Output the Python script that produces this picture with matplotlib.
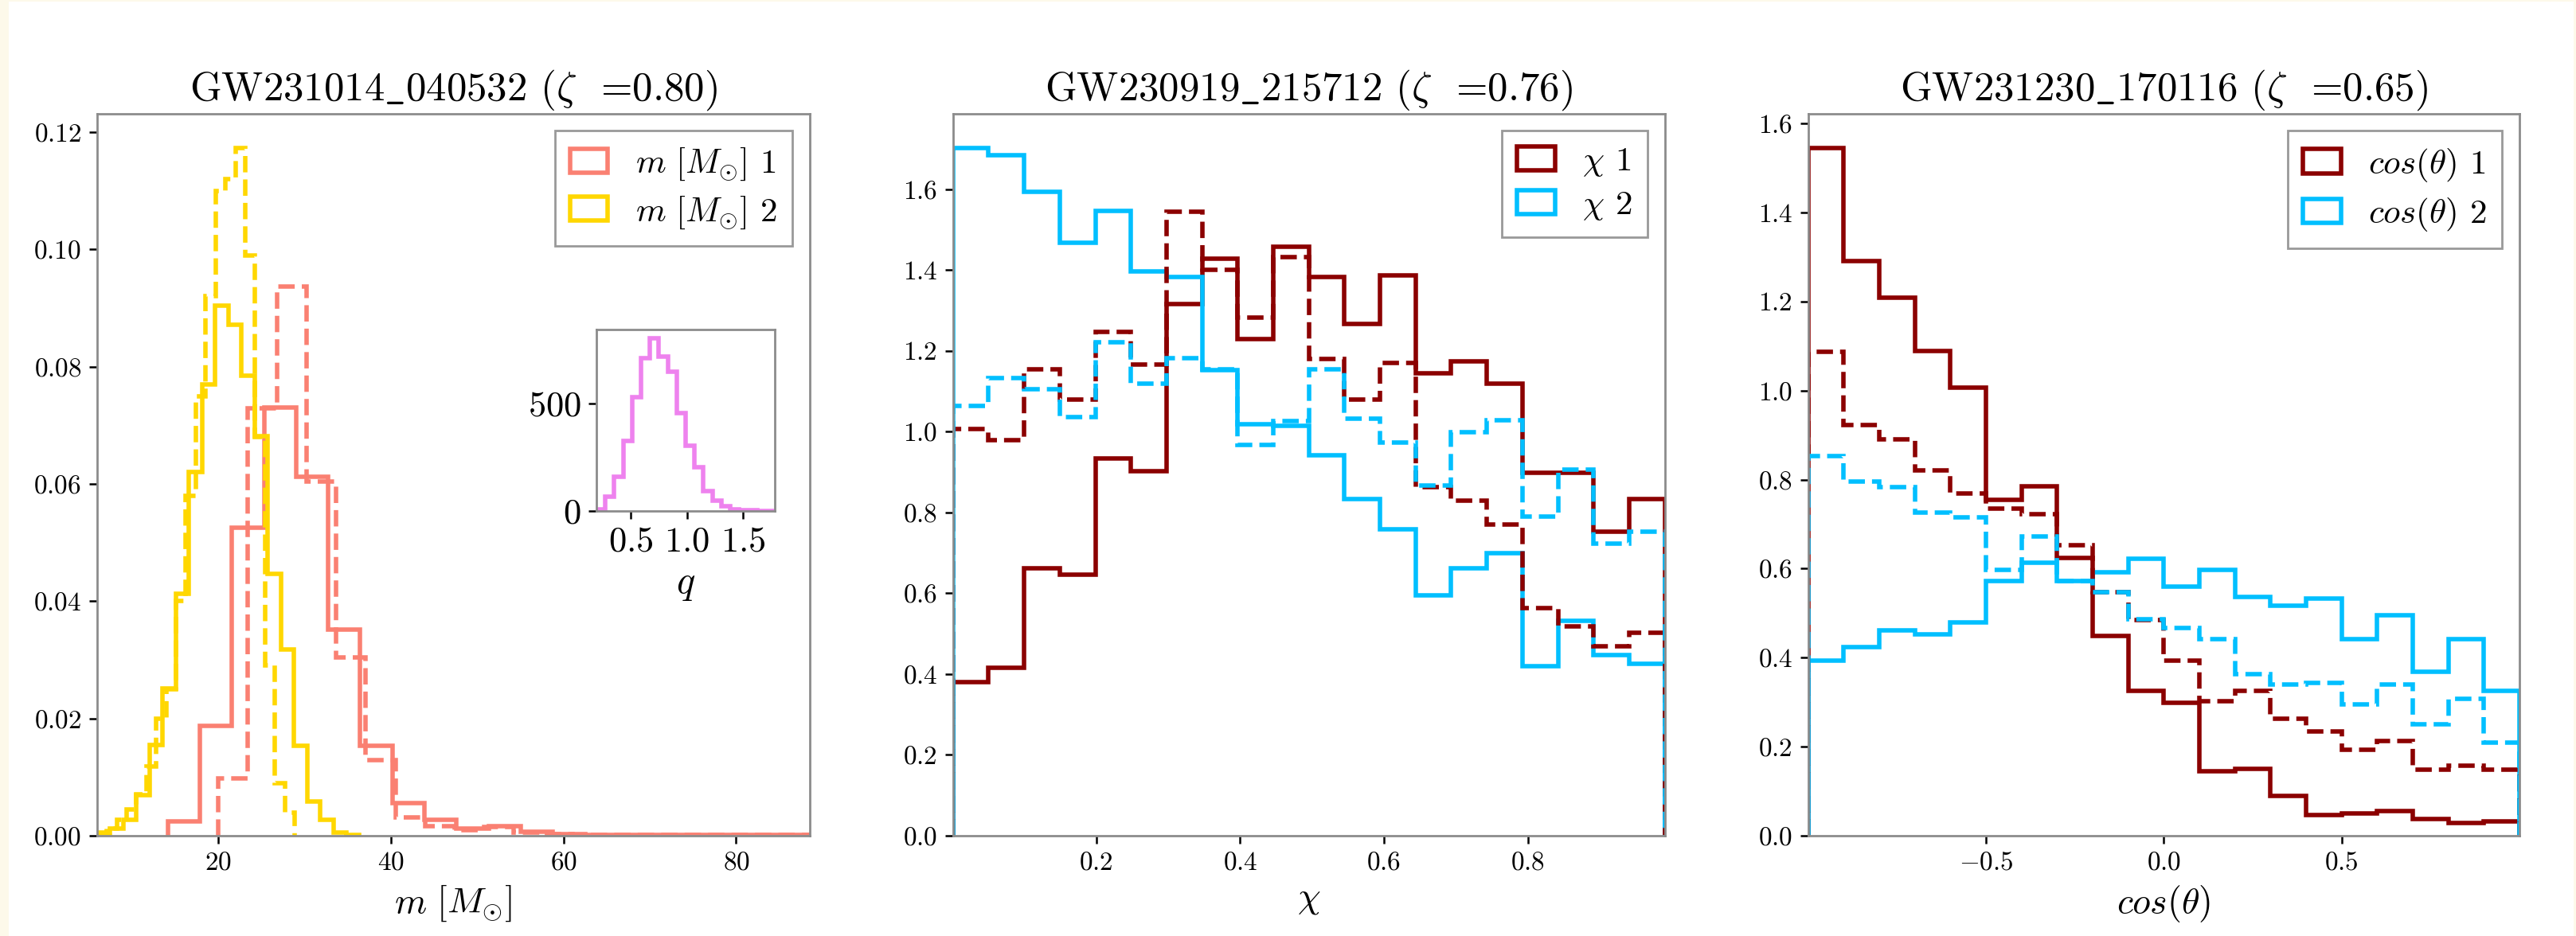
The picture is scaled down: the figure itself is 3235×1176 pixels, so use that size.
import numpy as np
import matplotlib
matplotlib.use("Agg")
import matplotlib.pyplot as plt
from matplotlib.patches import Rectangle

plt.rcParams['font.family'] = ['cmr10', 'DejaVu Serif']
plt.rcParams['mathtext.fontset'] = 'cm'
plt.rcParams['axes.formatter.use_mathtext'] = True
plt.rcParams['axes.unicode_minus'] = True

# ---------------- data ----------------
titles = [r"GW231014$\_$040532 ($\zeta$  =0.80)",
          r"GW230919$\_$215712 ($\zeta$  =0.76)",
          r"GW231230$\_$170116 ($\zeta$  =0.65)"]

# Panel 1 : masses (density), 20 equal bins over each range
m1_range = (14.2, 88.5)
m1_solid = [0.0024, 0.0188, 0.0525, 0.0731, 0.0612, 0.0351, 0.0153, 0.0055,
            0.0027, 0.0012, 0.0016, 0.0007, 0.0003, 0.0002, 0.0001, 0.0001,
            0.0001, 0.0001, 0.0001, 0.0001]
m1_range_d = (20.0, 88.5)
m1_dashed = [0.0098, 0.0729, 0.0937, 0.0604, 0.0304, 0.0129, 0.0031, 0.0016,
             0.0009, 0.0015, 0.0005, 0.0003, 0.0002, 0.0001, 0.0001, 0.0001,
             0.0001, 0.0001, 0.0001, 0.0001]
m2_range = (6.0, 36.4)
m2_solid = [0.0004, 0.0012, 0.0027, 0.0069, 0.0155, 0.0251, 0.0412, 0.0620,
            0.0770, 0.0904, 0.0871, 0.0784, 0.0682, 0.0447, 0.0318, 0.0153,
            0.0059, 0.0027, 0.0005, 0.0002]
m2_range_d = (6.0, 28.9)
m2_dashed = [0.0005, 0.0012, 0.0027, 0.0045, 0.0070, 0.0118, 0.0200, 0.0250,
             0.0400, 0.0580, 0.0750, 0.0920, 0.1100, 0.1120, 0.1173, 0.0990,
             0.0680, 0.0290, 0.0090, 0.0039]
m_xlim = (6.0, 88.5)

# inset : mass ratio q (counts)
q_range = (0.196, 1.78)
q_counts = [8, 68, 160, 324, 529, 710, 803, 718, 647, 455, 305, 205, 92, 47,
            21, 8, 3, 2, 1, 1]
q_xticks = [0.5, 1.0, 1.5]
q_yticks = [0, 500]

# Panel 2 : spin magnitudes chi
chi_range = (0.0005, 0.9905)
chi1_solid = [0.381, 0.416, 0.661, 0.647, 0.934, 0.902, 1.316, 1.429, 1.229, 1.457,
              1.383, 1.267, 1.387, 1.145, 1.173, 1.119, 0.899, 0.899, 0.752, 0.834]
chi1_dashed = [1.007, 0.979, 1.154, 1.079, 1.247, 1.166, 1.544, 1.400, 1.282, 1.432,
               1.180, 1.079, 1.170, 0.862, 0.829, 0.771, 0.563, 0.518, 0.469, 0.503]
chi2_solid = [1.702, 1.684, 1.593, 1.467, 1.547, 1.397, 1.383, 1.152, 1.019, 1.014,
              0.942, 0.834, 0.759, 0.594, 0.661, 0.699, 0.420, 0.531, 0.447, 0.426]
chi2_dashed = [1.063, 1.133, 1.105, 1.037, 1.222, 1.119, 1.182, 1.154, 0.967, 1.026,
               1.154, 1.033, 0.974, 0.867, 0.998, 1.028, 0.790, 0.906, 0.722, 0.752]
chi_xticks = [0.2, 0.4, 0.6, 0.8]

# Panel 3 : spin tilts cos(theta)
cos_range = (-0.9995, 0.9995)
cos1_solid = [1.545, 1.291, 1.209, 1.088, 1.007, 0.754, 0.785, 0.624, 0.448, 0.325,
              0.298, 0.145, 0.151, 0.089, 0.047, 0.050, 0.056, 0.037, 0.029, 0.033]
cos1_dashed = [1.087, 0.922, 0.890, 0.820, 0.769, 0.734, 0.722, 0.652, 0.547, 0.484,
               0.393, 0.302, 0.325, 0.263, 0.235, 0.193, 0.213, 0.149, 0.158, 0.149]
cos2_solid = [0.393, 0.423, 0.461, 0.452, 0.480, 0.573, 0.614, 0.572, 0.591, 0.622,
              0.559, 0.598, 0.537, 0.516, 0.533, 0.442, 0.496, 0.368, 0.442, 0.325]
cos2_dashed = [0.852, 0.796, 0.783, 0.726, 0.715, 0.598, 0.673, 0.572, 0.547, 0.486,
               0.467, 0.442, 0.363, 0.340, 0.344, 0.295, 0.340, 0.251, 0.308, 0.210]
cos_xticks = [-0.5, 0.0, 0.5]

labels_m = [r"$m\ [M_{\odot}]$ 1", r"$m\ [M_{\odot}]$ 2"]
labels_chi = [r"$\chi$ 1", r"$\chi$ 2"]
labels_cos = [r"$cos(\theta)$ 1", r"$cos(\theta)$ 2"]
xlabels = [r"$m\ [M_{\odot}]$", r"$\chi$", r"$cos(\theta)$"]

# ---------------- style ----------------
SALMON, GOLD = '#fa8072', '#ffd700'
DRED, SKY = '#8b0000', '#00bfff'
VIOLET = '#ee82ee'
LW = 2.0
TITLE_FS = 18.3
LABEL_FS = 16.5
TICK_FS = 12
LEG_FS = 15.5

W, H = 3235, 1176
fig = plt.figure(figsize=(W / 200, H / 200), dpi=200)
fig.patch.set_facecolor('#fdf9ea')
fig.add_artist(Rectangle((11 / W, 0), (3232 - 11) / W, (H - 2) / H,
                         transform=fig.transFigure, facecolor='white',
                         edgecolor='none', zorder=-10))

rects = [[121.7 / W, 126 / H, 895 / W, 907.3 / H],
         [1196.7 / W, 126 / H, 894 / W, 907.3 / H],
         [2270.7 / W, 126 / H, 893.3 / W, 907.3 / H]]
axes = [fig.add_axes(r) for r in rects]


def edges(rng, n):
    return np.linspace(rng[0], rng[1], n + 1)


def step(ax, rng, vals, color, ls='-', label=None):
    e = edges(rng, len(vals))
    ax.hist(e[:-1], bins=e, weights=vals, histtype='step', color=color,
            lw=LW, ls=ls, label=label)


def style(ax, fs=TICK_FS):
    for s in ax.spines.values():
        s.set_edgecolor('#8c8c8c')
        s.set_linewidth(1.0)
    ax.tick_params(labelsize=fs, width=0.9, length=3.5)


# Panel 1
ax = axes[0]
step(ax, m1_range, m1_solid, SALMON, '-', labels_m[0])
step(ax, m2_range, m2_solid, GOLD, '-', labels_m[1])
step(ax, m1_range_d, m1_dashed, SALMON, '--')
step(ax, m2_range_d, m2_dashed, GOLD, '--')
ax.set_xlim(*m_xlim)

# Panel 2
ax = axes[1]
step(ax, chi_range, chi1_solid, DRED, '-', labels_chi[0])
step(ax, chi_range, chi2_solid, SKY, '-', labels_chi[1])
step(ax, chi_range, chi1_dashed, DRED, '--')
step(ax, chi_range, chi2_dashed, SKY, '--')
ax.set_xlim(*chi_range)
ax.set_xticks(chi_xticks)

# Panel 3
ax = axes[2]
step(ax, cos_range, cos1_solid, DRED, '-', labels_cos[0])
step(ax, cos_range, cos2_solid, SKY, '-', labels_cos[1])
step(ax, cos_range, cos1_dashed, DRED, '--')
step(ax, cos_range, cos2_dashed, SKY, '--')
ax.set_xlim(*cos_range)
ax.set_xticks(cos_xticks)

for ax, t, xl in zip(axes, titles, xlabels):
    ax.set_title(t, fontsize=TITLE_FS, pad=6)
    ax.set_xlabel(xl, fontsize=LABEL_FS, labelpad=4)
    style(ax)
    leg = ax.legend(loc='upper right', fontsize=LEG_FS, handlelength=1.1,
                    handletextpad=0.8, labelspacing=0.35, borderpad=0.45,
                    fancybox=False, framealpha=1.0, edgecolor='#999999',
                    borderaxespad=0.5)
    leg.get_frame().set_linewidth(1.0)

# inset
ins = fig.add_axes([749 / W, (H - 642) / H, 224 / W, 228 / H])
step(ins, q_range, q_counts, VIOLET, '-')
ins.set_xlim(*q_range)
ins.set_xticks(q_xticks)
ins.set_yticks(q_yticks)
ins.set_xlabel(r"$q$", fontsize=LABEL_FS + 1, labelpad=4)
style(ins, fs=16)

fig.savefig("out.png", dpi=200, facecolor=fig.get_facecolor())
